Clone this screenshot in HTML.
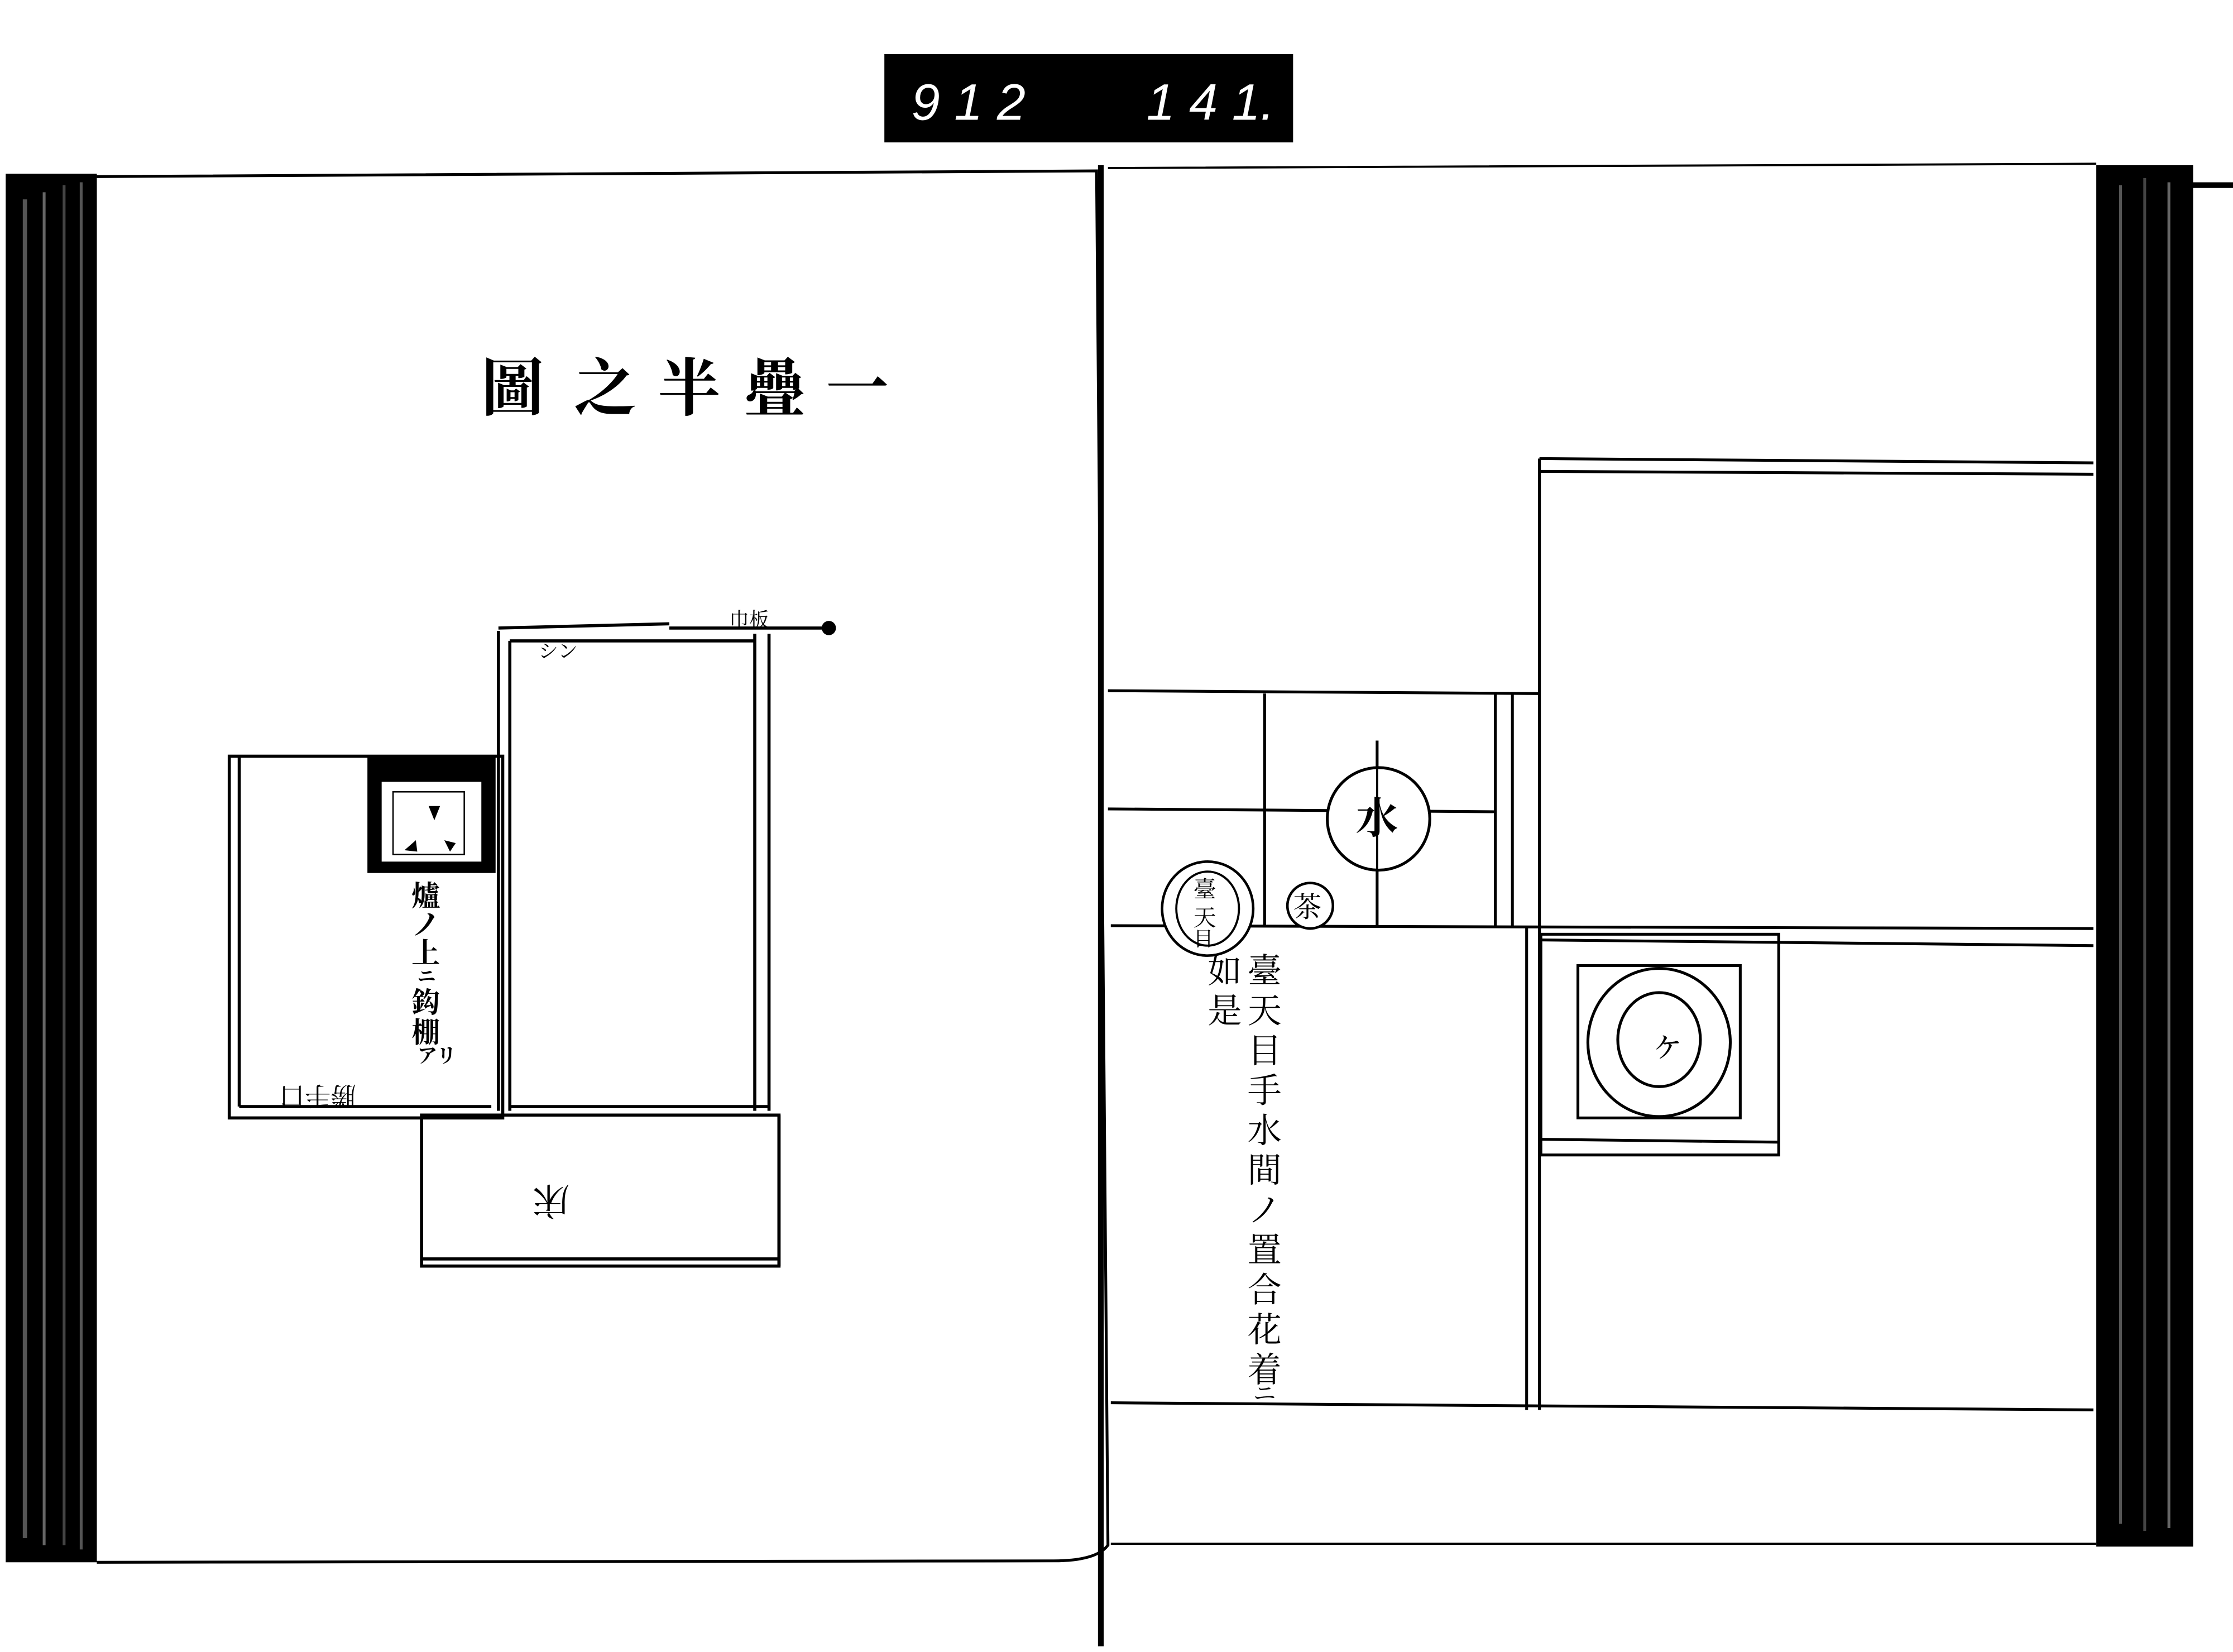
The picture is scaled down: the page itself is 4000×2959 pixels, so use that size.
<!DOCTYPE html>
<html><head><meta charset="utf-8">
<style>
html,body{margin:0;padding:0;background:#fff;}
svg{display:block;}
text{font-family:"Liberation Serif","Noto Serif CJK SC","Noto Sans CJK JP",serif;fill:#000;}
</style></head>
<body>
<svg width="4000" height="2959" viewBox="0 0 1568 1160" preserveAspectRatio="none" xmlns="http://www.w3.org/2000/svg">
<rect width="1568" height="1160" fill="#fff"/>
<rect x="621" y="38" width="287" height="62" fill="#000"/>
<text x="640" y="84" font-size="36" style="fill:#fff;font-family:'Liberation Sans',sans-serif" font-style="italic">9 1 2</text>
<text x="805" y="84" font-size="36" style="fill:#fff;font-family:'Liberation Sans',sans-serif" font-style="italic">1 4 1.</text>

<rect x="4" y="122" width="64" height="975" fill="#000"/>
<rect x="16" y="140" width="3" height="940" fill="#555"/>
<rect x="30" y="135" width="2" height="950" fill="#666"/>
<rect x="44" y="130" width="2" height="955" fill="#444"/>
<rect x="56" y="128" width="2" height="960" fill="#555"/>
<path d="M68 124 L770 120 L778 1085 Q770 1096 740 1096 L68 1097" fill="none" stroke="#000" stroke-width="2"/>
<path d="M778 118 L1472 115 M780 1084 L1472 1084" fill="none" stroke="#000" stroke-width="1.5"/>
<rect x="1472" y="116" width="68" height="970" fill="#000"/>
<rect x="1488" y="130" width="2" height="940" fill="#555"/>
<rect x="1505" y="125" width="2" height="950" fill="#444"/>
<rect x="1522" y="128" width="2" height="945" fill="#666"/>
<rect x="1538" y="128" width="30" height="4" fill="#000"/>
<rect x="771" y="116" width="4" height="1040" fill="#000"/>

<g font-size="44" font-weight="bold">
<text x="338" y="288">圖</text>
<text x="403" y="288">之</text>
<text x="462" y="288">半</text>
<text x="522" y="288">疊</text>
<text x="580" y="288">一</text>
</g>

<g fill="none" stroke="#000" stroke-width="2.2">
<rect x="161" y="531" width="192" height="254"/>
<line x1="168" y1="531" x2="168" y2="777"/>
<line x1="168" y1="777" x2="345" y2="777"/>
<path d="M350 443 L350 780 M358 450 L358 780 M350 441 L470 438 M358 450 L530 450 M470 441 L582 441"/>
<path d="M530 445 L530 780 M540 445 L540 780 M358 777 L540 777"/>
<rect x="296" y="783" width="251" height="106"/>
<line x1="296" y1="884" x2="547" y2="884"/>
<line x1="547" y1="783" x2="547" y2="889"/>
</g>
<circle cx="582" cy="441" r="5" fill="#000"/>
<text x="512" y="440" font-size="14">巾板</text>
<text x="378" y="462" font-size="14">シン</text>
<rect x="258" y="531" width="90" height="82" fill="#000"/>
<rect x="268" y="549" width="70" height="56" fill="#fff"/>
<rect x="276" y="556" width="50" height="44" fill="none" stroke="#000" stroke-width="1"/>
<polygon points="301,566 309,566 305,576" fill="#000"/>
<polygon points="284,597 292,590 293,598" fill="#000"/>
<polygon points="312,590 320,592 316,598" fill="#000"/>
<g font-size="20" font-weight="bold">
<text x="289" y="636">爐</text><text x="289" y="656">ノ</text><text x="289" y="676">上</text><text x="293" y="690" font-size="13">ニ</text><text x="289" y="711">鈎</text><text x="289" y="732">棚</text><text x="293" y="746" font-size="14">アリ</text>
</g>
<text x="200" y="777" font-size="18" transform="rotate(180 225 770)">勝手口</text>
<text x="370" y="850" font-size="26" transform="rotate(180 385 842)">床</text>

<g fill="none" stroke="#000" stroke-width="2">
<path d="M1081 322 L1470 325 M1081 331 L1470 333 M1081 322 L1081 990"/>
<path d="M778 485 L1081 487 M778 568 L1050 570 M780 650 L1470 652 M1081 660 L1470 664"/>
<path d="M888 487 L888 650 M967 520 L967 650 M1050 487 L1050 650 M1062 487 L1062 650"/>
<path d="M1072 650 L1072 990 M780 985 L1470 990"/>
<rect x="1082" y="656" width="167" height="155"/>
<line x1="1082" y1="800" x2="1249" y2="802"/>
<rect x="1108" y="678" width="114" height="107"/>
<ellipse cx="1165" cy="732" rx="50" ry="52"/>
<ellipse cx="1165" cy="730" rx="29" ry="33"/>
</g>
<circle cx="968" cy="575" r="36" fill="#fff" stroke="#000" stroke-width="2"/>
<line x1="967" y1="520" x2="967" y2="650" stroke="#000" stroke-width="1.5"/>
<text x="952" y="585" font-size="30" font-weight="bold">水</text>
<circle cx="920" cy="636" r="16" fill="#fff" stroke="#000" stroke-width="1.8"/>
<text x="908" y="644" font-size="20">茶</text>
<ellipse cx="848" cy="638" rx="32" ry="33" fill="#fff" stroke="#000" stroke-width="1.8"/>
<ellipse cx="848" cy="638" rx="22" ry="26" fill="none" stroke="#000" stroke-width="1.5"/>
<text x="838" y="630" font-size="16">臺</text>
<text x="838" y="650" font-size="16">天</text>
<text x="838" y="664" font-size="14">目</text>
<text x="1158" y="742" font-size="26">ヶ</text>
<g font-size="24">
<text x="848" y="690">如</text><text x="848" y="718">是</text>
<text x="876" y="690">臺</text><text x="876" y="718">天</text><text x="876" y="746">目</text><text x="876" y="774">手</text><text x="876" y="802">水</text><text x="876" y="830">間</text><text x="876" y="858">ノ</text><text x="876" y="886">置</text><text x="876" y="914">合</text><text x="876" y="942">花</text><text x="876" y="970">着</text><text x="880" y="984" font-size="16">ニ</text>
</g>
</svg>
</body></html>
